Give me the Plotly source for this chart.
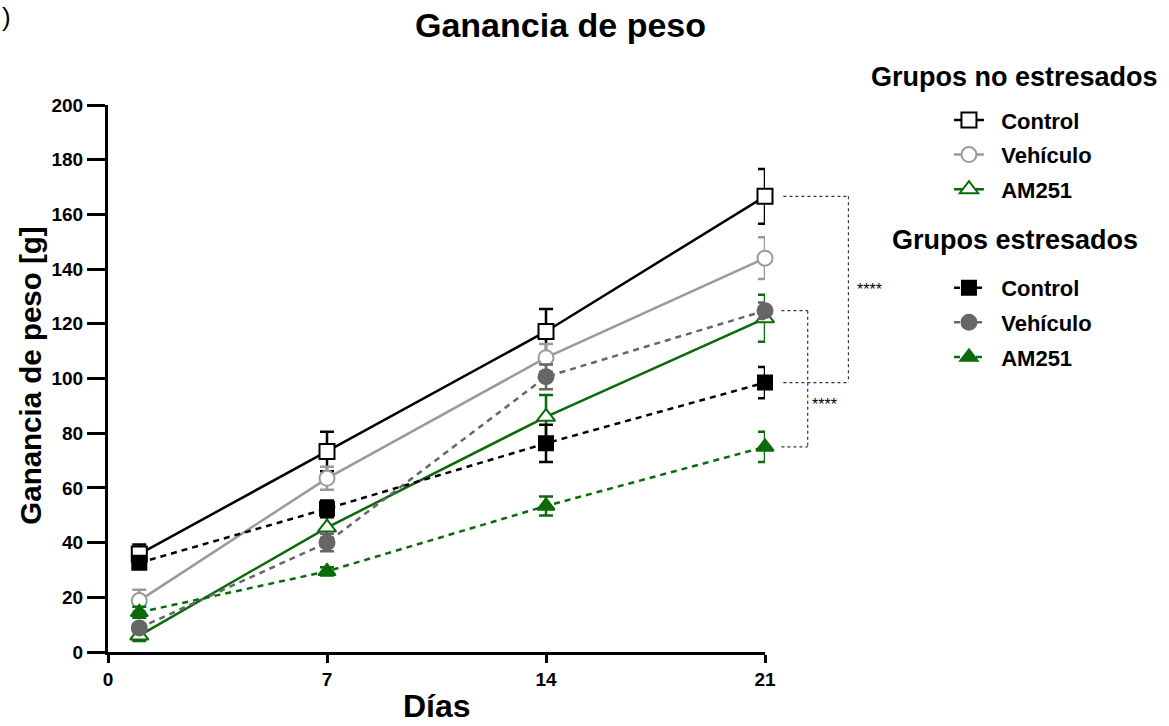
import plotly.graph_objects as go

dias = [1, 7, 14, 21]
x_ticks = [0, 7, 14, 21]
y_ticks = [0, 20, 40, 60, 80, 100, 120, 140, 160, 180, 200]

# Grupos no estresados
ctrl_ne = [35.8, 73.3, 117.2, 166.6]
ctrl_ne_err = [3.5, 7.2, 8.2, 10.0]
veh_ne = [18.8, 63.5, 107.6, 144.0]
veh_ne_err = [4.0, 4.2, 5.0, 7.6]
am_ne = [6.0, 45.5, 86.0, 122.0]
am_ne_err = [2.0, 3.8, 8.0, 8.6]

# Grupos estresados
ctrl_e = [32.6, 52.4, 76.3, 98.5]
ctrl_e_err = [2.0, 3.0, 6.8, 5.7]
veh_e = [8.8, 40.0, 100.6, 124.8]
veh_e_err = [1.5, 3.2, 4.5, 3.0]
am_e = [14.5, 29.5, 53.4, 75.0]
am_e_err = [2.0, 1.5, 3.5, 5.5]

FONT = "Liberation Sans, Arial, sans-serif"
BLACK = "#000000"
LGRAY = "#9a9a9a"
DGRAY = "#666666"
GREEN = "#0b6b0b"

series = [
    ("Control", ctrl_ne, ctrl_ne_err, BLACK, "square", "white", "solid", "legend", 15),
    ("Vehículo", veh_ne, veh_ne_err, LGRAY, "circle", "white", "solid", "legend", 15),
    ("AM251", am_ne, am_ne_err, GREEN, "triangle-up", "white", "solid", "legend", 16),
    ("Control", ctrl_e, ctrl_e_err, BLACK, "square", BLACK, "dash", "legend2", 14),
    ("Vehículo", veh_e, veh_e_err, DGRAY, "circle", DGRAY, "dash", "legend2", 15),
    ("AM251", am_e, am_e_err, GREEN, "triangle-up", GREEN, "dash", "legend2", 15),
]

NB = "\u00a0\u00a0"
fig = go.Figure()
for i, (name, ys, errs, col, sym, fill, dash, leg, msize) in enumerate(series):
    fig.add_trace(go.Scatter(
        x=dias, y=ys, name=NB + name, mode="lines+markers",
        line=dict(color=col, width=2.5, dash="6px,5px" if dash == "dash" else "solid"),
        marker=dict(symbol=sym, size=msize, color=fill, line=dict(color=col, width=2)),
        error_y=dict(type="data", array=errs, visible=True, color=col, thickness=2.5, width=7),
        legend=leg, legendgroup=f"g{i}", cliponaxis=False,
    ))

legfont = dict(size=22, family=FONT, color="black", weight="bold")
fig.update_layout(
    width=1169, height=726,
    margin=dict(l=108, r=404, t=105, b=74),
    paper_bgcolor="white", plot_bgcolor="white",
    font=dict(family=FONT, color="black"),
    showlegend=True,
    legend=dict(x=1.28, y=1.0107, xanchor="left", yanchor="top", bgcolor="rgba(0,0,0,0)",
                font=legfont, itemwidth=30, tracegroupgap=3, traceorder="grouped"),
    legend2=dict(x=1.28, y=0.704, xanchor="left", yanchor="top", bgcolor="rgba(0,0,0,0)",
                 font=legfont, itemwidth=30, tracegroupgap=3, traceorder="grouped"),
)

fig.update_xaxes(
    range=[0, 21], tickvals=x_ticks, ticktext=[str(v) for v in x_ticks],
    showline=True, linecolor="black", linewidth=3, showgrid=False, zeroline=False,
    ticks="outside", ticklen=8, tickwidth=3, tickcolor="black",
    tickfont=dict(size=19, family=FONT, color="black", weight="bold"),
)
fig.update_yaxes(
    range=[0, 200], tickvals=y_ticks,
    showline=True, linecolor="black", linewidth=3, showgrid=False, zeroline=False,
    ticks="outside", ticklen=18, tickwidth=2.5, tickcolor="black",
    tickfont=dict(size=19, family=FONT, color="black", weight="bold"),
)

C = dict(xanchor="center", yanchor="middle", showarrow=False, xref="paper", yref="paper")
ann = [
    dict(text="Ganancia de peso", x=0.688, y=1.146, font=dict(size=34, family=FONT, weight="bold"), **C),
    dict(text="Ganancia de peso [g]", x=-0.118, y=0.506, textangle=-90,
         font=dict(size=29.5, family=FONT, weight="bold"), **C),
    dict(text="Días", x=0.5, y=-0.1353, xref="paper", yref="paper", xanchor="center", yanchor="bottom",
         showarrow=False, font=dict(size=32, family=FONT, weight="bold")),
    dict(text="Grupos no estresados", x=1.3805, y=1.051, font=dict(size=27, family=FONT, weight="bold"), **C),
    dict(text="Grupos estresados", x=1.3805, y=0.753, font=dict(size=27, family=FONT, weight="bold"), **C),
    dict(text=")", x=-0.164, y=1.192, xref="paper", yref="paper", xanchor="left", yanchor="top",
         showarrow=False, font=dict(size=26, family=FONT)),
    dict(text="****", x=1.137, y=(ctrl_ne[3] + ctrl_e[3]) / 2, xref="paper", yref="y",
         xanchor="left", yanchor="middle", showarrow=False, font=dict(size=16, family=FONT)),
    dict(text="****", x=1.068, y=(ctrl_e[3] - 8), xref="paper", yref="y",
         xanchor="left", yanchor="middle", showarrow=False, font=dict(size=16, family=FONT)),
]
fig.update_layout(annotations=ann)

# Significance brackets
br = dict(color="#333333", width=1.2, dash="3px,3px")
x0a, x1a = 1.028, 1.127
x0b, x1b = 1.025, 1.065
shapes = [
    dict(type="line", xref="paper", yref="y", x0=x0a, x1=x1a, y0=ctrl_ne[3], y1=ctrl_ne[3], line=br),
    dict(type="line", xref="paper", yref="y", x0=x1a, x1=x1a, y0=ctrl_ne[3], y1=ctrl_e[3], line=br),
    dict(type="line", xref="paper", yref="y", x0=x0a, x1=x1a, y0=ctrl_e[3], y1=ctrl_e[3], line=br),
    dict(type="line", xref="paper", yref="y", x0=x0b, x1=x1b, y0=veh_e[3], y1=veh_e[3], line=br),
    dict(type="line", xref="paper", yref="y", x0=x1b, x1=x1b, y0=veh_e[3], y1=am_e[3], line=br),
    dict(type="line", xref="paper", yref="y", x0=x0b, x1=x1b, y0=am_e[3], y1=am_e[3], line=br),
]
fig.update_layout(shapes=shapes)

fig.write_html("out.html")
